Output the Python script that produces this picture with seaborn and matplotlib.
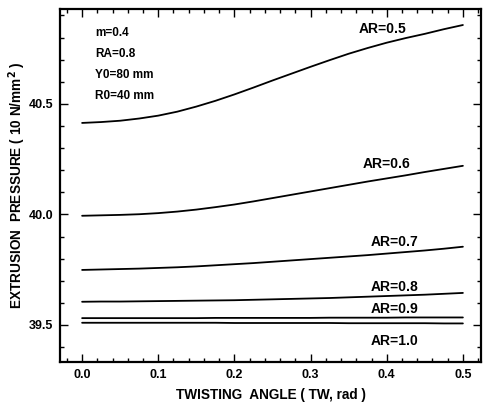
import numpy as np
import pandas as pd
import matplotlib
matplotlib.use("Agg")
import matplotlib.pyplot as plt
import seaborn as sns
from matplotlib.ticker import MultipleLocator, FixedLocator

tw = [0.0, 0.025, 0.05, 0.075, 0.1, 0.125, 0.15, 0.175, 0.2, 0.225, 0.25,
      0.275, 0.3, 0.325, 0.35, 0.375, 0.4, 0.425, 0.45, 0.475, 0.5]
ar05 = [40.414, 40.418, 40.424, 40.434, 40.447, 40.465, 40.488, 40.514, 40.543, 40.574, 40.606,
        40.637, 40.668, 40.698, 40.727, 40.753, 40.777, 40.798, 40.817, 40.838, 40.857]
ar06 = [39.994, 39.996, 39.998, 40.001, 40.006, 40.013, 40.022, 40.033, 40.045, 40.059, 40.074,
        40.089, 40.104, 40.119, 40.134, 40.149, 40.163, 40.177, 40.192, 40.206, 40.22]
ar07 = [39.749, 39.751, 39.753, 39.755, 39.758, 39.761, 39.765, 39.770, 39.775, 39.780, 39.786,
        39.792, 39.798, 39.804, 39.810, 39.816, 39.823, 39.830, 39.837, 39.845, 39.854]
ar08 = [39.605, 39.606, 39.606, 39.607, 39.608, 39.609, 39.610, 39.611, 39.612, 39.614, 39.616,
        39.618, 39.620, 39.622, 39.625, 39.628, 39.631, 39.634, 39.637, 39.641, 39.645]
ar09 = [39.531, 39.531, 39.531, 39.531, 39.531, 39.531, 39.531, 39.532, 39.532, 39.532, 39.532,
        39.532, 39.532, 39.533, 39.533, 39.533, 39.533, 39.534, 39.534, 39.534, 39.534]
ar10 = [39.510, 39.510, 39.510, 39.510, 39.510, 39.510, 39.510, 39.510, 39.509, 39.509, 39.509,
        39.509, 39.509, 39.509, 39.508, 39.508, 39.508, 39.508, 39.508, 39.507, 39.507]
series_names = ["AR=0.5", "AR=0.6", "AR=0.7", "AR=0.8", "AR=0.9", "AR=1.0"]
label_x = [0.395, 0.40, 0.41, 0.41, 0.41, 0.41]
label_y = [40.84, 40.23, 39.876, 39.672, 39.572, 39.428]
info_lines = ["m=0.4", "RA=0.8", "Y0=80 mm", "R0=40 mm"]

series = [ar05, ar06, ar07, ar08, ar09, ar10]
df = pd.DataFrame({
    "tw": np.tile(tw, len(series)),
    "p": np.concatenate(series),
    "ar": np.repeat(series_names, len(tw)),
})

sns.set_style("ticks")
plt.rcParams["font.family"] = ["Liberation Sans", "DejaVu Sans"]
plt.rcParams["font.weight"] = "bold"
plt.rcParams["text.color"] = "black"
plt.rcParams["axes.labelcolor"] = "black"

fig = plt.figure(figsize=(4.88, 4.03), dpi=100)
ax = fig.add_axes([0.123, 0.102, 0.863, 0.876])
sns.lineplot(data=df, x="tw", y="p", units="ar", estimator=None,
             color="black", linewidth=1.3, ax=ax, legend=False)

ax.set_xlim(-0.029, 0.524)
ax.set_ylim(39.333, 40.93)
ax.xaxis.set_major_locator(FixedLocator([0.0, 0.1, 0.2, 0.3, 0.4, 0.5]))
ax.xaxis.set_minor_locator(MultipleLocator(0.02))
ax.yaxis.set_major_locator(FixedLocator([39.5, 40.0, 40.5]))
ax.yaxis.set_minor_locator(MultipleLocator(0.1))
ax.set_xticklabels(["0.0", "0.1", "0.2", "0.3", "0.4", "0.5"])
ax.set_yticklabels(["39.5", "40.0", "40.5"])
ax.tick_params(which="both", direction="in", top=True, right=True,
               colors="black", labelsize=9, width=1.0)
ax.tick_params(which="major", length=6, pad=5)
ax.tick_params(which="minor", length=3)
for s in ax.spines.values():
    s.set_linewidth(1.6)
    s.set_color("black")

for name, x, y in zip(series_names, label_x, label_y):
    ax.text(x, y, name, ha="center", va="center", fontsize=10, fontweight="bold", color="black")

for i, t in enumerate(info_lines):
    ax.text(0.017, 40.82 - i * 0.095, t, ha="left", va="center", fontsize=8.5,
            fontweight="bold", color="black")

ax.set_xlabel("TWISTING  ANGLE ( TW, rad )", fontsize=9.8, fontweight="bold", labelpad=5)
ax.set_ylabel("EXTRUSION  PRESSURE ( 10 N/mm$^2$ )", fontsize=9.8, fontweight="bold", labelpad=0)

fig.savefig("out.png", dpi=100)
